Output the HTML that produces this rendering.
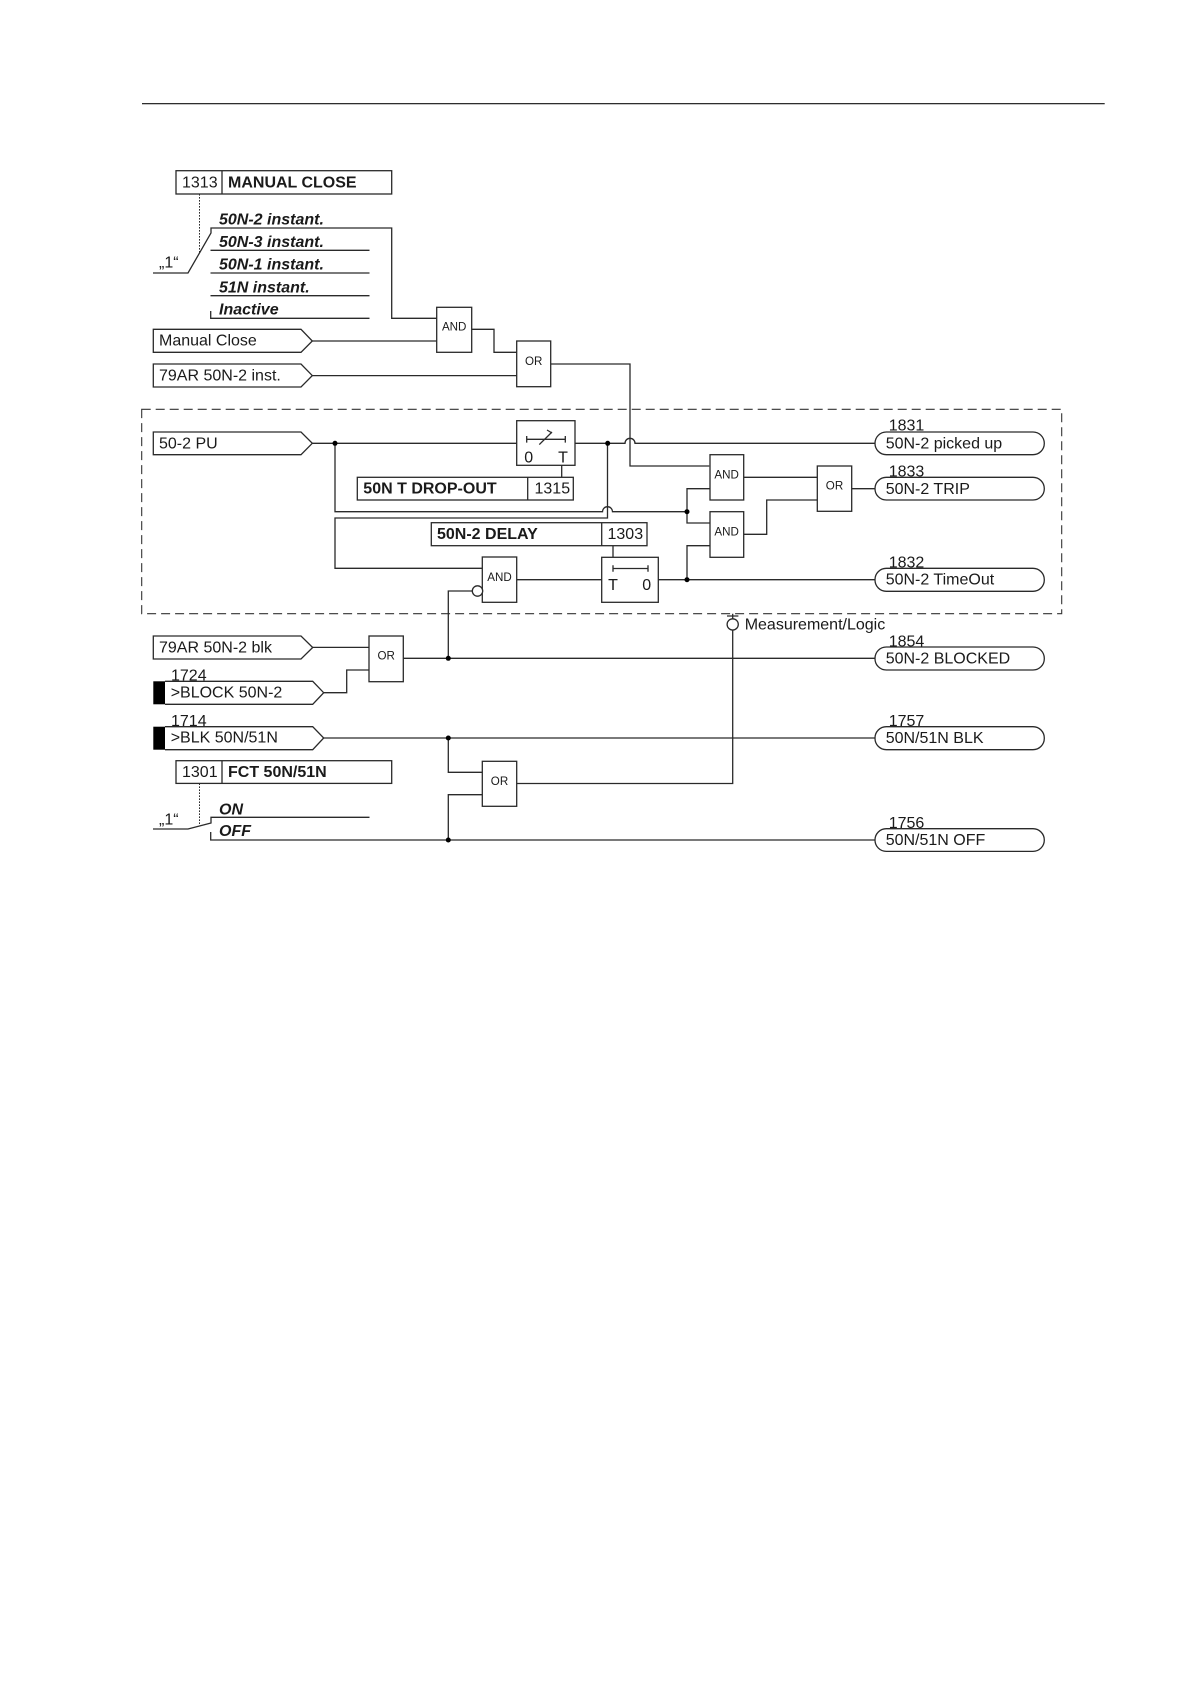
<!DOCTYPE html>
<html>
<head>
<meta charset="utf-8">
<style>
html,body{margin:0;padding:0;background:#fff;width:1190px;height:1684px;overflow:hidden}
svg{display:block}
text{font-family:"Liberation Sans",sans-serif;font-size:16px;fill:#1a1a1a}
.b{font-weight:bold}
.bi{font-weight:bold;font-style:italic;font-size:16px}
.s{font-size:11.6px;text-anchor:middle}
.c{text-anchor:middle}
.l{fill:none;stroke:#2a2a2a;stroke-width:1.3}
</style>
</head>
<body>
<svg width="1190" height="1684" viewBox="0 0 1190 1684" xmlns="http://www.w3.org/2000/svg">
<line x1="142" y1="103.7" x2="1104.7" y2="103.7" stroke="#111" stroke-width="1.2"/>

<!-- dashed region -->
<rect x="141.7" y="409.3" width="920" height="204.4" fill="none" stroke="#333" stroke-width="1.1" stroke-dasharray="9 5"/>

<g class="l">
<!-- MANUAL CLOSE block -->
<rect x="176" y="170.7" width="215.7" height="23.3"/>
<line x1="222" y1="170.7" x2="222" y2="194"/>
<line x1="199.5" y1="194" x2="199.5" y2="253" stroke-dasharray="1.6 1.4" stroke-width="1"/>
<path d="M153 273H188L211 233V228H391.7V318.3H436.7"/>
<path d="M210.5 250.3H369.5"/>
<path d="M210.5 273H369.5"/>
<path d="M210.5 295.7H369.5"/>
<path d="M210.7 311V318.3H369.5"/>

<!-- Manual close and 79AR inputs -->
<path d="M153.3 329.3H301L312.3 341L301 352.3H153.3Z"/>
<path d="M312.3 341H436.7"/>
<path d="M153.3 364H301L312.3 375.6L301 387H153.3Z"/>
<path d="M312.3 375.6H516.7"/>

<rect x="436.7" y="307.3" width="35" height="45"/>
<path d="M471.7 329.3H494V352.3H516.7"/>
<rect x="516.7" y="341" width="34" height="45.7"/>
<path d="M550.7 364H630V466H709.3"/>

<!-- 50-2 PU -->
<path d="M153.3 432H301L312.3 443.3L301 454.7H153.3Z"/>
<path d="M312.3 443.3H516.7"/>
<rect x="516.7" y="420.7" width="58.3" height="44.6"/>
<path d="M575 443.3H625a5 5 0 0 1 10 0H875"/>
<path d="M335 443.3V511.7H602.5a5 5 0 0 1 10 0H687"/>
<path d="M607.5 443.3V518H335V568.3H482.3"/>
<path d="M526.7 439.3H565.3M526.7 436V442.6M565.3 436V442.6"/>
<path d="M539.3 444.6L552 432M547 430L552 433"/>
<line x1="561.7" y1="465.3" x2="561.7" y2="477.3"/>
<rect x="357.3" y="477.3" width="216" height="22.7"/>
<line x1="527.7" y1="477.3" x2="527.7" y2="500"/>
<rect x="431.3" y="522.7" width="215.7" height="23"/>
<line x1="601.7" y1="522.7" x2="601.7" y2="545.7"/>
<rect x="482.3" y="557" width="34.4" height="45.3"/>
<path d="M516.7 579.7H601.7"/>
<rect x="601.7" y="557.3" width="56.6" height="45"/>
<line x1="613" y1="545.7" x2="613" y2="557.3"/>
<path d="M613 568.5H648M613 565.3V571.7M648 565.3V571.7"/>
<path d="M658.3 579.7H875"/>
<path d="M687 579.7V545.7H710"/>
<path d="M710 488.7H687V523H710"/>
<rect x="710" y="454.7" width="33.7" height="45.3"/>
<rect x="710" y="511.7" width="33.7" height="45.6"/>
<path d="M743.7 477.3H817.3"/>
<path d="M743.7 534.3H766.7V500H817.3"/>
<rect x="817.3" y="466" width="34.4" height="45.3"/>
<path d="M851.7 488.7H875"/>

<!-- output pills -->
<rect x="875" y="432" width="169.3" height="22.7" rx="11.3"/>
<rect x="875" y="477.3" width="169.3" height="22.7" rx="11.3"/>
<rect x="875" y="568.3" width="169.3" height="23" rx="11.3"/>
<rect x="875" y="647" width="169.3" height="23" rx="11.3"/>
<rect x="875" y="726.7" width="169.3" height="23" rx="11.3"/>
<rect x="875" y="828.7" width="169.3" height="22.7" rx="11.3"/>

<!-- Measurement -->
<path d="M732.7 613.7V618.7M727 616H738.4"/>
<circle cx="732.7" cy="624.4" r="5.6"/>
<path d="M732.7 630V783.5H516.7"/>

<!-- Lower inputs -->
<path d="M153.3 636H301L312.7 647.5L301 659H153.3Z"/>
<path d="M312.7 647.4H369"/>
<path d="M165 681.3H312.7L323.7 692.7L312.7 704.3H165"/>
<path d="M323.7 692.7H346.7V670H369"/>
<rect x="369" y="636" width="34.3" height="45.7"/>
<path d="M403.3 658.3H875"/>
<path d="M448.3 658.3V591H472.3"/>
<circle cx="477.5" cy="591" r="5.2" fill="#fff"/>

<path d="M165 726.7H312.7L323.7 738L312.7 749.7H165"/>
<path d="M323.7 738H875"/>
<path d="M448.3 738V772.3H482.3"/>
<rect x="482.3" y="761.3" width="34.4" height="45"/>
<path d="M482.3 794.7H448.3V840"/>

<!-- FCT block -->
<rect x="176" y="760.7" width="215.7" height="22.7"/>
<line x1="222" y1="760.7" x2="222" y2="783.4"/>
<line x1="199.5" y1="783.4" x2="199.5" y2="825" stroke-dasharray="1.6 1.4" stroke-width="1"/>
<path d="M153 829H188L211 823V817.3H369.5"/>
<path d="M210.7 832V840H875"/>
</g>

<rect x="153.3" y="681.3" width="11.7" height="23" fill="#000"/>
<rect x="153.3" y="726.7" width="11.7" height="23" fill="#000"/>

<g fill="#000">
<circle cx="335" cy="443.3" r="2.5"/>
<circle cx="607.7" cy="443.3" r="2.5"/>
<circle cx="687" cy="511.7" r="2.5"/>
<circle cx="687" cy="579.7" r="2.5"/>
<circle cx="448.3" cy="658.3" r="2.5"/>
<circle cx="448.3" cy="738" r="2.5"/>
<circle cx="448.3" cy="840" r="2.5"/>
</g>

<!-- text -->
<text x="182" y="187.3">1313</text>
<text x="228" y="187.3" class="b">MANUAL CLOSE</text>
<text x="219" y="224.3" class="bi">50N-2 instant.</text>
<text x="219" y="247" class="bi">50N-3 instant.</text>
<text x="219" y="269.7" class="bi">50N-1 instant.</text>
<text x="219" y="292.3" class="bi">51N instant.</text>
<text x="219" y="314.3" class="bi">Inactive</text>
<text x="159" y="267.7">„1“</text>
<text x="159" y="345.7">Manual Close</text>
<text x="159" y="380.3">79AR 50N-2 inst.</text>
<text x="159" y="448.7">50-2 PU</text>
<text x="363.3" y="493.7" class="b">50N T DROP-OUT</text>
<text x="534.5" y="493.5">1315</text>
<text x="437" y="539" class="b">50N-2 DELAY</text>
<text x="607.5" y="539">1303</text>
<text x="528.7" y="462.3" class="c">0</text>
<text x="563" y="462.3" class="c">T</text>
<text x="613" y="590" class="c">T</text>
<text x="646.7" y="590" class="c">0</text>

<text x="454.2" y="330.7" class="s">AND</text>
<text x="533.7" y="365" class="s">OR</text>
<text x="499.5" y="581" class="s">AND</text>
<text x="726.6" y="478.3" class="s">AND</text>
<text x="726.6" y="535.3" class="s">AND</text>
<text x="834.5" y="489.7" class="s">OR</text>
<text x="386.2" y="659.7" class="s">OR</text>
<text x="499.5" y="785" class="s">OR</text>

<text x="888.7" y="430.7">1831</text>
<text x="885.7" y="448.7">50N-2 picked up</text>
<text x="888.7" y="476.7">1833</text>
<text x="885.7" y="494">50N-2 TRIP</text>
<text x="888.7" y="567.3">1832</text>
<text x="885.7" y="584.3">50N-2 TimeOut</text>
<text x="888.7" y="646.7">1854</text>
<text x="885.7" y="663.7">50N-2 BLOCKED</text>
<text x="888.7" y="726">1757</text>
<text x="885.7" y="743">50N/51N BLK</text>
<text x="888.7" y="828">1756</text>
<text x="885.7" y="845">50N/51N OFF</text>
<text x="744.7" y="629.3">Measurement/Logic</text>

<text x="159" y="652.3">79AR 50N-2 blk</text>
<text x="171" y="680.3">1724</text>
<text x="170.7" y="697.7">&gt;BLOCK 50N-2</text>
<text x="171" y="726">1714</text>
<text x="170.7" y="742.7">&gt;BLK 50N/51N</text>
<text x="182" y="777">1301</text>
<text x="228" y="777" class="b">FCT 50N/51N</text>
<text x="159" y="824.5">„1“</text>
<text x="219" y="814.3" class="bi">ON</text>
<text x="219" y="836" class="bi">OFF</text>
</svg>
</body>
</html>
